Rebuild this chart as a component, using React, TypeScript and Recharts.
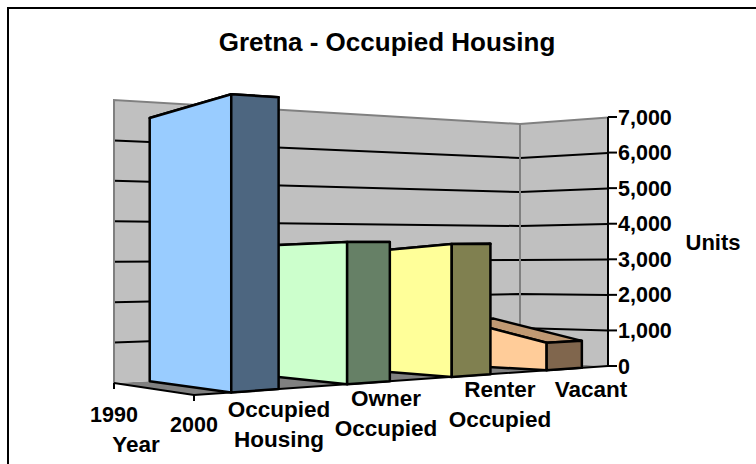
import React from 'react';
import { BarChart, Bar, XAxis, YAxis, Customized } from 'recharts';

// drawn back to front: the axis is reversed so Occupied Housing still sits on the left
const CATEGORIES = ['Vacant', 'Renter Occupied', 'Owner Occupied', 'Occupied Housing'];
const VALUES_1990 = [1300, 3240, 3400, 6600];
const VALUES_2000 = [750, 3460, 3520, 7000];
const FACE_COLORS = ['#FFCC99', '#FFFF99', '#CCFFCC', '#99CCFF'];
const CAP_COLORS = ['#80664D', '#808050', '#668066', '#4D6680'];
const TOP_COLORS = ['#C09973', '#C0C073', '#99C099', '#7399C0'];
const YEARS = ['1990', '2000'];
const VALUE_TICKS = [0, 1000, 2000, 3000, 4000, 5000, 6000, 7000];
const MAX_VALUE = 7000;

const FONT = '"Liberation Sans", Arial, sans-serif';
const W = 756;
const H = 464;
const PLOT = { left: 194, right: 608, top: 117, bottom: 366 };

// box corners on screen: x, floor y and y of the top of the value range
const FL = { x: 194, b: 395, t: 92 };
const FR = { x: 608, b: 366, t: 117.5 };
const BL = { x: 114, b: 383, t: 100 };
const BR = { x: 520, b: 362, t: 124 };

// u: along the categories (0 left, 1 right), d: depth (0 front, 1 back), v: 0..1 of the value range
const project = (u: number, d: number, v: number): [number, number] => {
  const corners = [
    { c: FL, k: (1 - u) * (1 - d) },
    { c: FR, k: u * (1 - d) },
    { c: BL, k: (1 - u) * d },
    { c: BR, k: u * d },
  ];
  let sum = 0;
  let x = 0;
  let y = 0;
  corners.forEach(({ c, k }) => {
    const weight = k / (c.b - c.t); // depth grows as the screen height shrinks
    sum += weight;
    x += weight * c.x;
    y += weight * (c.b + v * (c.t - c.b));
  });
  return [x / sum, y / sum];
};

const pts = (list: [number, number][]) => list.map(p => p.join(',')).join(' ');

const Walls = () => (
  <g>
    <polyline points={`8,${H} 8,8 ${W},8`} fill="none" stroke="#000" strokeWidth={2} />
    <polygon
      points={pts([project(0, 1, 0), project(1, 1, 0), project(1, 0, 0), project(0, 0, 0)])}
      fill="#808080"
    />
    <polygon
      points={pts([project(0, 1, 0), project(0, 1, 1), project(1, 1, 1), project(1, 1, 0)])}
      fill="#C0C0C0"
    />
    <polygon
      points={pts([project(1, 1, 0), project(1, 1, 1), project(1, 0, 1), project(1, 0, 0)])}
      fill="#C0C0C0"
    />
    {VALUE_TICKS.slice(1, -1).map(t => (
      <polyline
        key={t}
        points={pts([project(0, 1, t / MAX_VALUE), project(1, 1, t / MAX_VALUE), project(1, 0, t / MAX_VALUE)])}
        fill="none"
        stroke="#000"
        strokeWidth={2}
      />
    ))}
    <polyline
      points={pts([project(0, 1, 0), project(0, 1, 1), project(1, 1, 1), project(1, 0, 1)])}
      fill="none"
      stroke="#808080"
      strokeWidth={2}
    />
    <line
      x1={project(1, 1, 0)[0]}
      y1={project(1, 1, 0)[1]}
      x2={project(1, 1, 1)[0]}
      y2={project(1, 1, 1)[1]}
      stroke="#808080"
      strokeWidth={2}
    />
    <polyline
      points={pts([project(0, 1, 0), project(0, 0, 0), project(1, 0, 0)])}
      fill="none"
      stroke="#000"
      strokeWidth={2}
    />
    {YEARS.map((year, i) => {
      const [x, y] = project(0, 1 - i, 0);
      return <line key={year} x1={x} y1={y} x2={x} y2={y + 6} stroke="#000" strokeWidth={2} />;
    })}
  </g>
);

const Ribbon = (props: any) => {
  const { x, width, height, index } = props;
  const value2000 = VALUES_2000[index];
  const plotH = PLOT.bottom - PLOT.top;
  const plotW = PLOT.right - PLOT.left;
  const v2000 = height / plotH;
  const v1990 = ((height / value2000) * VALUES_1990[index]) / plotH;
  const u0 = (x - PLOT.left) / plotW;
  const u1 = (x + width - PLOT.left) / plotW;
  const line = { stroke: '#000', strokeWidth: 2.5, strokeLinejoin: 'round' as const };
  return (
    <g>
      <polygon
        points={pts([project(u0, 1, v1990), project(u1, 1, v1990), project(u1, 0, v2000), project(u0, 0, v2000)])}
        fill={TOP_COLORS[index]}
        {...line}
      />
      <polygon
        points={pts([project(u0, 1, 0), project(u0, 0, 0), project(u0, 0, v2000), project(u0, 1, v1990)])}
        fill={FACE_COLORS[index]}
        {...line}
      />
      <polygon
        points={pts([project(u0, 0, 0), project(u1, 0, 0), project(u1, 0, v2000), project(u0, 0, v2000)])}
        fill={CAP_COLORS[index]}
        {...line}
      />
    </g>
  );
};

// where Excel put each wrapped category label, centre x and first baseline
const CATEGORY_LABELS: Record<string, { x: number; y: number }> = {
  'Occupied Housing': { x: 279, y: 417 },
  'Owner Occupied': { x: 386, y: 406 },
  'Renter Occupied': { x: 500, y: 397 },
  Vacant: { x: 591, y: 397 },
};

const CategoryTick = (props: any) => {
  const name: string = props.payload.value;
  const place = CATEGORY_LABELS[name];
  return (
    <text textAnchor="middle" fontFamily={FONT} fontWeight="bold" fontSize={22.5} fill="#000">
      {name.split(' ').map((word, i) => (
        <tspan key={word} x={place.x} y={place.y + i * 30}>
          {word}
        </tspan>
      ))}
    </text>
  );
};

const Labels = () => (
  <g fontFamily={FONT} fontWeight="bold" fill="#000">
    <text x={387} y={51} textAnchor="middle" fontSize={26}>
      Gretna - Occupied Housing
    </text>
    <text x={713} y={250} textAnchor="middle" fontSize={22}>
      Units
    </text>
    <text x={114} y={422} textAnchor="middle" fontSize={21.5}>
      {YEARS[0]}
    </text>
    <text x={194} y={432} textAnchor="middle" fontSize={21.5}>
      {YEARS[1]}
    </text>
    <text x={136} y={452} textAnchor="middle" fontSize={22.5}>
      Year
    </text>
  </g>
);

const data = CATEGORIES.map((name, i) => ({ name, y2000: VALUES_2000[i] }));

export default function App() {
  return (
    <div style={{ position: 'absolute', left: 0, top: 0, width: W, height: H, background: '#fff' }}>
      <BarChart
        width={W}
        height={H}
        data={data}
        barCategoryGap="30%"
        margin={{ top: PLOT.top, right: 0, bottom: 0, left: PLOT.left }}
      >
        <Customized component={Walls} />
        <XAxis
          dataKey="name"
          reversed
          interval={0}
          height={H - PLOT.bottom}
          axisLine={false}
          tickLine={false}
          tick={<CategoryTick />}
        />
        <YAxis
          orientation="right"
          width={W - PLOT.right}
          domain={[0, MAX_VALUE]}
          ticks={VALUE_TICKS}
          interval={0}
          tickFormatter={(v: number) => v.toLocaleString('en-US')}
          tick={{ fontFamily: FONT, fontWeight: 'bold', fontSize: 21.5, fill: '#000' }}
          axisLine={{ stroke: '#000', strokeWidth: 2 }}
          tickLine={{ stroke: '#000', strokeWidth: 2 }}
          tickSize={9}
          tickMargin={1}
        />
        <Bar dataKey="y2000" shape={<Ribbon />} isAnimationActive={false} />
        <Customized component={Labels} />
      </BarChart>
    </div>
  );
}
